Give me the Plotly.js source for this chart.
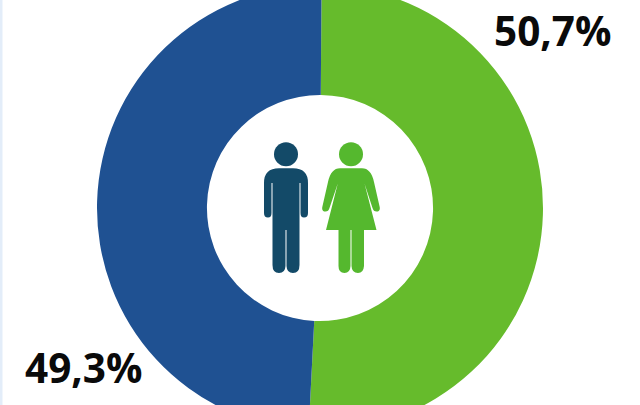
<!DOCTYPE html>
<html>
<head>
<meta charset="utf-8">
<script src="https://cdn.plot.ly/plotly-3.0.1.min.js"></script>
<style>
html,body{margin:0;padding:0;background:#fff;width:640px;height:405px;overflow:hidden}
#wrap{position:relative;width:640px;height:405px;overflow:hidden}
#chart{position:absolute;left:0;top:-15px;width:640px;height:446px}
</style>
</head>
<body>
<div id="wrap"><div id="chart"></div></div>
<script>
const categories = ['Mujeres', 'Hombres'];
const shares = [50.7, 49.3];
const sliceColors = ['#66BB2C', '#1F5192'];
const W = 640, H = 446, OFFSET = 15;
const px = x => x / W;
const py = y => 1 - (y + OFFSET) / H;
const label = v => v.toFixed(1).replace('.', ',') + '%';

// icon outlines: commands with coordinates in picture pixels
function icon(cmds, color) {
  const path = cmds.map(c => {
    if (c.length === 1) return c[0];
    let out = c[0];
    for (let i = 1; i < c.length; i += 2) out += (i > 1 ? ' ' : '') + px(c[i]).toFixed(5) + ',' + py(c[i + 1]).toFixed(5);
    return out;
  }).join(' ');
  return {type:'path', xref:'paper', yref:'paper', path, fillcolor:color, line:{width:0}, layer:'above'};
}
function head(cx, cy, r, color) {
  return {type:'circle', xref:'paper', yref:'paper', x0:px(cx-r), x1:px(cx+r), y0:py(cy+r), y1:py(cy-r), fillcolor:color, line:{width:0}, layer:'above'};
}
const MAN = '#134A68', WOMAN = '#55B82E';
const manBody = [
  ['M',264,183],['Q',264,168.3,279,168.3],['L',293,168.3],['Q',308,168.3,308,183],
  ['L',308,213],['Q',308,217.5,304,217.5],['Q',300.5,217.5,300.5,213],['L',300.5,183],['L',299.5,183],
  ['L',299.5,265],['Q',299.5,273,293,273],['Q',286.8,273,286.5,266],['L',286.5,230],['L',285.5,230],
  ['L',285.5,266],['Q',285.2,273,279,273],['Q',272.5,273,272.5,265],['L',272.5,183],['L',271.5,183],
  ['L',271.5,213],['Q',271.5,217.5,268,217.5],['Q',264,217.5,264,213],['Z']
];
const womanBody = [
  ['M',328,182],['Q',331,168.3,340,168.3],['L',362,168.3],['Q',371,168.3,374,182],
  ['L',379.7,207],['Q',380.5,211.5,376.5,211.5],['Q',373.5,211.5,372.5,208],['L',364.5,183.5],
  ['L',376.5,230],['L',364,230],['L',364,266],['Q',363.5,273,358,273],['Q',351.8,273,351.5,266],
  ['L',351.5,230],['L',350.5,230],['L',350.5,266],['Q',350.2,273,344.5,273],['Q',338.5,273,338.5,266],
  ['L',338.5,230],['L',326,230],['L',337.8,183.5],['L',329.5,208],['Q',328.5,211.5,325.5,211.5],
  ['Q',321.5,211.5,322.3,207],['Z']
];

const shapes = [
  {type:'rect', xref:'paper', yref:'paper', x0:0, x1:px(2.5), y0:py(405), y1:py(0), fillcolor:'#E3EDF9', line:{width:0}, layer:'below'},
  head(286, 154.3, 12, MAN), icon(manBody, MAN),
  head(351, 154.3, 12, WOMAN), icon(womanBody, WOMAN)
];

const labelFont = {family:'"Open Sans", sans-serif', size:40.5, color:'#0A0A0A', weight:700};
const annotations = [
  {xref:'paper', yref:'paper', x:px(552.5), y:py(31), text:label(shares[0]), showarrow:false, font:labelFont, xanchor:'center', yanchor:'middle'},
  {xref:'paper', yref:'paper', x:px(84), y:py(367.5), text:label(shares[1]), showarrow:false, font:labelFont, xanchor:'center', yanchor:'middle'}
];

Plotly.newPlot('chart', [{
  type:'pie', labels:categories, values:shares, hole:0.507, sort:false, direction:'clockwise', rotation:0.4,
  marker:{colors:sliceColors, line:{width:0}}, textinfo:'none', hoverinfo:'label+percent',
  domain:{x:[0,1], y:[0,1]}
}], {
  width:W, height:H, margin:{l:0,r:0,t:0,b:0}, showlegend:false,
  paper_bgcolor:'#FFFFFF', plot_bgcolor:'#FFFFFF', shapes, annotations
}, {displayModeBar:false, staticPlot:true});
</script>
</body>
</html>
